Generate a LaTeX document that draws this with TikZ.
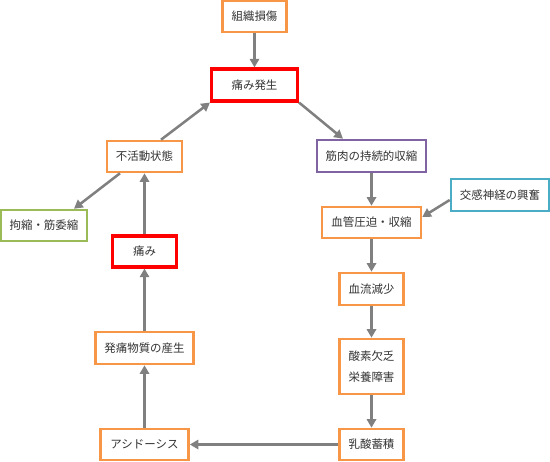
\documentclass[tikz,border=0pt]{standalone}
\usepackage{fontspec}
\setmainfont{Noto Sans CJK JP}
\usetikzlibrary{arrows.meta,calc}
\definecolor{orng}{HTML}{F79646}
\definecolor{rd}{HTML}{FF0000}
\definecolor{prp}{HTML}{8064A2}
\definecolor{grn}{HTML}{9BBB59}
\definecolor{blu}{HTML}{4BACC6}
\definecolor{arr}{HTML}{808080}
\definecolor{txt}{HTML}{333333}
\begin{document}
\begin{tikzpicture}[x=0.75pt,y=-0.75pt,
  box/.style={draw=orng,line width=1.9pt,fill=white,text=txt,inner sep=0pt,
    font=\fontsize{8.6pt}{10pt}\selectfont,align=center},
  redbox/.style={box,draw=rd,line width=2.3pt},
  prpbox/.style={box,draw=prp},
  grnbox/.style={box,draw=grn},
  blubox/.style={box,draw=blu},
  conn/.style={draw=arr,line width=1.9pt,-{Triangle[length=6.5pt,width=7pt]}}]
\useasboundingbox (0,0) rectangle (550,461);
\node[box,minimum width=48pt,minimum height=23.25pt] (tissue) at (254.5,16.5) {組織損傷};
\node[redbox,minimum width=64.5pt,minimum height=24pt] (painon) at (254.5,85) {痛み発生};
\node[box,minimum width=56.25pt,minimum height=23.25pt] (inact) at (144.5,156.5) {不活動状態};
\node[grnbox,minimum width=64.5pt,minimum height=23.25pt] (contr) at (44,225.5) {拘縮・筋委縮};
\node[prpbox,minimum width=81.75pt,minimum height=24pt] (muscle) at (371.5,156) {筋肉の持続的収縮};
\node[blubox,minimum width=73.5pt,minimum height=24pt] (symp) at (500,195) {交感神経の興奮};
\node[box,minimum width=74.25pt,minimum height=23.25pt] (vessel) at (371.5,222.5) {血管圧迫・収縮};
\node[box,minimum width=48pt,minimum height=24pt] (flow) at (371.5,289) {血流減少};
\node[box,minimum width=48pt,minimum height=41.25pt] (oxy) at (371.5,366.5) {酸素欠乏\\[6pt]栄養障害};
\node[box,minimum width=48pt,minimum height=23.25pt] (lactic) at (371.5,444.5) {乳酸蓄積};
\node[box,minimum width=66pt,minimum height=23.25pt] (acid) at (144.5,444.5) {アシドーシス};
\node[box,minimum width=73.5pt,minimum height=24pt] (algo) at (144.5,348) {発痛物質の産生};
\node[redbox,minimum width=48pt,minimum height=23.25pt] (pain) at (144.5,251.5) {痛み};
\draw[conn] (tissue) -- (painon);
\draw[conn] (painon.south east) -- ($(muscle.north)+(-28.5,0)$);
\draw[conn] ($(inact.north)+(16.5,0)$) -- (painon.south west);
\draw[conn] ($(inact.south)+(-24.5,0)$) -- ($(contr.north)+(30,0)$);
\draw[conn] (pain) -- (inact);
\draw[conn] (algo) -- (pain);
\draw[conn] (acid) -- (algo);
\draw[conn] (lactic) -- (acid);
\draw[conn] (muscle) -- (vessel);
\draw[conn] ($(symp.west)+(0,5)$) -- ($(vessel.east)+(0,-5.5)$);
\draw[conn] (vessel) -- (flow);
\draw[conn] (flow) -- (oxy);
\draw[conn] (oxy) -- (lactic);
\end{tikzpicture}
\end{document}
